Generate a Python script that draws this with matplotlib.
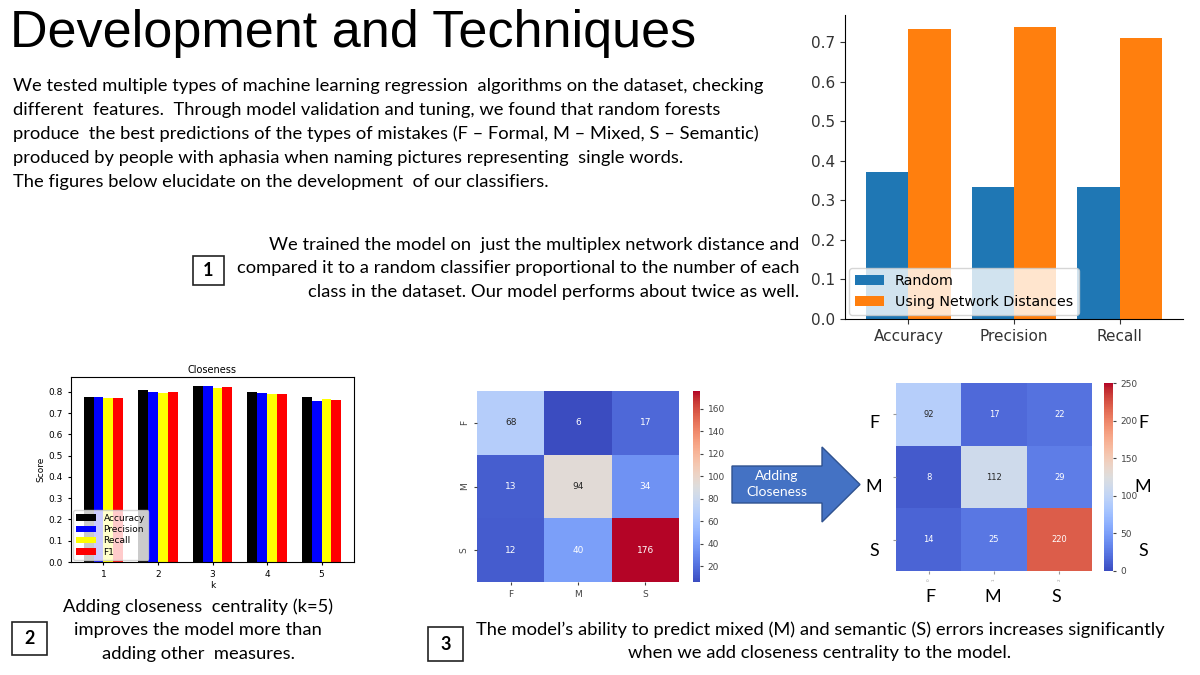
import matplotlib
matplotlib.use('Agg')
import matplotlib.pyplot as plt
from matplotlib.patches import Rectangle, FancyArrow
import numpy as np
import seaborn as sns

W, H = 1200, 675

# ---- data ----
metrics = ['Accuracy', 'Precision', 'Recall']
random_scores = [0.371, 0.333, 0.333]
network_scores = [0.733, 0.737, 0.709]

k_values = [1, 2, 3, 4, 5]
acc = [0.777, 0.809, 0.828, 0.797, 0.776]
prec = [0.774, 0.797, 0.828, 0.793, 0.757]
rec = [0.772, 0.796, 0.818, 0.788, 0.766]
f1 = [0.773, 0.797, 0.822, 0.788, 0.762]

classes = ['F', 'M', 'S']
cm_before = np.array([[68, 6, 17], [13, 94, 34], [12, 40, 176]])
cm_after = np.array([[92, 17, 22], [8, 112, 29], [14, 25, 220]])

body = ("We tested multiple types of machine learning regression  algorithms on the dataset, checking\n"
        "different  features.  Through model validation and tuning, we found that random forests\n"
        "produce  the best predictions of the types of mistakes (F \u2013 Formal, M \u2013 Mixed, S \u2013 Semantic)\n"
        "produced by people with aphasia when naming pictures representing  single words.\n"
        "The figures below elucidate on the development  of our classifiers.")
note1 = ("We trained the model on  just the multiplex network distance and\n"
         "compared it to a random classifier proportional to the number of each\n"
         "class in the dataset. Our model performs about twice as well.")
note2 = "Adding closeness  centrality (k=5)\nimproves the model more than\nadding other  measures."
note3 = ("The model\u2019s ability to predict mixed (M) and semantic (S) errors increases significantly\n"
         "when we add closeness centrality to the model.")

BODY_FONT = ['Lato', 'DejaVu Sans']


def px_axes(fig, x0, y0, x1, y1):
    # pixel box (top-left origin) -> figure axes
    return fig.add_axes([x0 / W, 1 - y1 / H, (x1 - x0) / W, (y1 - y0) / H])


def fx(x):
    return x / W


def fy(y):
    return 1 - y / H


fig = plt.figure(figsize=(12, 6.75), dpi=100)
fig.patch.set_facecolor('white')

# ---- title and text ----
fig.text(fx(10), fy(33), 'Development and Techniques', fontsize=37.5,
         family=['Liberation Sans', 'DejaVu Sans'], va='center', ha='left')
fig.text(fx(13), fy(78), body, fontsize=13.2, family=BODY_FONT, va='top', ha='left',
         linespacing=1.6)
fig.text(fx(799), fy(237), note1, fontsize=13.2, family=BODY_FONT, va='top', ha='right',
         linespacing=1.56)
fig.text(fx(198), fy(598), note2, fontsize=13.2, family=BODY_FONT, va='top', ha='center',
         linespacing=1.58)
fig.text(fx(820), fy(621), note3, fontsize=13.2, family=BODY_FONT, va='top', ha='center',
         linespacing=1.6)

for (x0, y0, x1, y1, lab) in [(193, 256, 224, 285, '1'), (12, 622, 47, 655, '2'),
                              (428, 627, 463, 661, '3')]:
    fig.patches.append(Rectangle((fx(x0), fy(y1)), fx(x1 - x0), (y1 - y0) / H,
                                 transform=fig.transFigure, fill=False, lw=1.2,
                                 edgecolor='#222222'))
    fig.text(fx((x0 + x1) / 2), fy((y0 + y1) / 2), lab, fontsize=13, weight='bold',
             family=BODY_FONT, ha='center', va='center')

# ---- chart 1: random vs network distances ----
ax1 = px_axes(fig, 845, 15, 1183, 319)
x = np.arange(len(metrics))
ax1.bar(x - 0.2, random_scores, 0.4, color='#1f77b4', label='Random')
ax1.bar(x + 0.2, network_scores, 0.4, color='#ff7f0e', label='Using Network Distances')
ax1.set_xticks(x)
ax1.set_xticklabels(metrics)
ax1.set_xlim(-0.6, 2.6)
ax1.set_ylim(0, 0.768)
ax1.set_yticks(np.arange(0, 0.71, 0.1))
ax1.tick_params(labelsize=11, colors='#333333')
ax1.spines['top'].set_visible(False)
ax1.spines['right'].set_visible(False)
ax1.legend(loc='lower left', fontsize=10.3, borderaxespad=0.3)

# ---- chart 2: closeness ----
ax2 = px_axes(fig, 71, 377, 354, 562)
kk = np.array(k_values)
w = 0.18
for i, (vals, col, lab) in enumerate([(acc, 'black', 'Accuracy'), (prec, 'blue', 'Precision'),
                                      (rec, 'yellow', 'Recall'), (f1, 'red', 'F1')]):
    ax2.bar(kk + (i - 1.5) * w, vals, w, color=col, label=lab)
ax2.set_xticks(k_values)
ax2.set_yticks(np.arange(0, 0.81, 0.1))
ax2.tick_params(labelsize=6.5, length=2.5)
ax2.set_title('Closeness', fontsize=7, pad=3)
ax2.set_xlabel('k', fontsize=6.5, labelpad=1)
ax2.set_ylabel('Score', fontsize=6.5, labelpad=2)
ax2.legend(loc='lower left', fontsize=6.5, borderaxespad=0.2, handlelength=2.2,
           labelspacing=0.25)

# ---- heatmap before ----
axh1 = px_axes(fig, 477, 391, 679, 582)
cax1 = px_axes(fig, 693, 391, 700, 582)
sns.heatmap(cm_before, ax=axh1, cbar_ax=cax1, cmap='coolwarm', annot=True, fmt='d',
            annot_kws={'fontsize': 6.5}, xticklabels=classes, yticklabels=classes)
axh1.tick_params(labelsize=6.5, length=2.5, colors='#444444')
cax1.tick_params(labelsize=6.5, length=2, colors='#444444')

# ---- heatmap after ----
axh2 = px_axes(fig, 896, 383, 1092, 571)
cax2 = px_axes(fig, 1104, 383, 1113, 571)
sns.heatmap(cm_after, ax=axh2, cbar_ax=cax2, cmap='coolwarm', annot=True, fmt='d',
            vmin=0, vmax=250, annot_kws={'fontsize': 6},
            xticklabels=['0', '1', '2'], yticklabels=['', '', ''])
axh2.tick_params(axis='x', labelsize=3, length=2, colors='#999999', labelrotation=90)
axh2.tick_params(axis='y', length=2, colors='#999999')
cax2.tick_params(labelsize=6.5, length=2, colors='#444444')

for i, c in enumerate(classes):
    yy = 423 + i * 64
    fig.text(fx(874), fy(yy), c, fontsize=13, family=BODY_FONT, ha='center', va='center')
    fig.text(fx(1143), fy(yy), c, fontsize=13, family=BODY_FONT, ha='center', va='center')
    fig.text(fx(930 + i * 63), fy(597), c, fontsize=13, family=BODY_FONT, ha='center',
             va='center')

# ---- arrow ----
arr = FancyArrow(fx(732), fy(484.5), fx(128), 0, width=37 / H, head_width=75 / H,
                 head_length=fx(38), length_includes_head=True, transform=fig.transFigure,
                 facecolor='#4472C4', edgecolor='#2F528F', lw=1)
fig.patches.append(arr)
fig.text(fx(777), fy(484), 'Adding\nCloseness', color='white', fontsize=10,
         family=BODY_FONT, ha='center', va='center', linespacing=1.3)

fig.savefig('out.png', dpi=100, facecolor='white')
